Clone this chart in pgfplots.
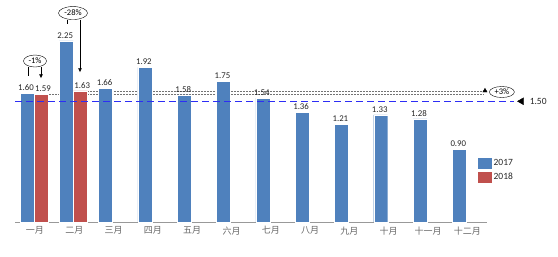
\documentclass[border=0pt]{standalone}
\usepackage{fontspec}
\setmainfont{Carlito}
\newfontfamily\cjk{Noto Sans CJK SC}
\usepackage{pgfplots}
\pgfplotsset{compat=1.18}
\usetikzlibrary{shapes.geometric,arrows.meta}
\definecolor{b17}{HTML}{4F81BD}
\definecolor{r18}{HTML}{C0504D}
\definecolor{dashb}{RGB}{45,45,245}
\begin{document}
\begin{tikzpicture}
\begin{axis}[
  x=39.3pt, y=80.5pt, xmin=-0.5, xmax=11.5, ymin=0, ymax=2.7,
  clip=false,
  axis x line*=bottom, axis y line=none,
  x axis line style={draw=black!40, line width=0.8pt, -},
  xtick={0,...,11},
  xticklabels={一月,二月,三月,四月,五月,六月,七月,八月,九月,十月,十一月,十二月},
  major tick length=0pt,
  xticklabel style={font=\cjk\fontsize{9}{10}\selectfont, text=black!60, yshift=-1pt},
  ytick=\empty,
  /pgf/number format/fixed,
  /pgf/number format/fixed zerofill,
  /pgf/number format/precision=2,
  /pgf/number format/assume math mode=true,
  legend style={at={(axis cs:11.2,0.83)}, anchor=north west, draw=none, fill=none,
    font=\fontsize{9.5}{10}\selectfont, row sep=2pt, text=black!85},
]
% dotted reference lines (behind bars)
\draw[black!55, densely dotted, line width=0.5pt] (axis cs:0.356,1.59) -- (axis cs:0.644,1.59);
\draw[black!55, densely dotted, line width=0.5pt] (axis cs:1.356,1.59) -- (axis cs:11.4,1.59);
\draw[black!55, densely dotted, line width=0.5pt] (axis cs:1.356,1.63) -- (axis cs:11.4,1.63);

\addplot[ybar, bar width=14pt, bar shift=-8pt, fill=b17, draw=white, line width=0.3pt,
  nodes near coords, every node near coord/.append style={font=\fontsize{8.8}{10}\selectfont, text=black!85, xshift=-9pt, inner sep=2.5pt},
  legend image code/.code={\fill[b17] (0pt,-5pt) rectangle (13pt,5pt);}]
  coordinates {(0,1.60) (1,2.25) (2,1.66) (3,1.92) (4,1.58) (5,1.75) (6,1.54) (7,1.36) (8,1.21) (9,1.33) (10,1.28) (11,0.90)};
\addlegendentry{2017}
\addplot[ybar, bar width=14pt, bar shift=6pt, fill=r18, draw=white, line width=0.3pt,
  nodes near coords, every node near coord/.append style={font=\fontsize{8.8}{10}\selectfont, text=black!85, xshift=8pt, inner sep=2.5pt},
  legend image code/.code={\fill[r18] (0pt,-5pt) rectangle (13pt,5pt);}]
  coordinates {(0,1.59) (1,1.63)};
\addlegendentry{2018}

% 1.50 dashed line
\draw[dashb, dash pattern=on 7pt off 4pt, line width=0.9pt] (axis cs:-0.5,1.50) -- (axis cs:12.2,1.50);
\addplot[forget plot, only marks, mark=triangle*, mark size=4pt, mark options={rotate=90, fill=black, draw=black}]
  coordinates {(12.38,1.50)};
\node[anchor=west, font=\fontsize{9.5}{10}\selectfont, text=black!85] at (axis cs:12.5,1.50) {1.50};
\addplot[forget plot, only marks, mark=triangle*, mark size=2.5pt, mark options={fill=black, draw=black}]
  coordinates {(11.45,1.63)};
\node[draw, ellipse, minimum width=25pt, minimum height=11pt, inner sep=0pt, font=\fontsize{8.5}{9}\selectfont] at (axis cs:11.88,1.615) {+3\%};

% -1% annotation
\node[draw, ellipse, minimum width=23pt, minimum height=12pt, inner sep=0pt, font=\fontsize{8.5}{9}\selectfont] (a) at (axis cs:0,2.0) {-1\%};
\draw[black, line width=0.6pt] (axis cs:-0.18,1.93) -- (axis cs:-0.18,1.81);
\draw[black, line width=0.6pt, -{Latex[length=4pt,width=4pt]}] (axis cs:0.153,1.93) -- (axis cs:0.153,1.785);

% -28% annotation
\node[draw, ellipse, minimum width=29pt, minimum height=13pt, inner sep=0pt, font=\fontsize{8.5}{9}\selectfont] at (axis cs:0.967,2.596) {-28\%};
\draw[black, line width=0.6pt] (axis cs:0.81,2.515) -- (axis cs:0.81,2.455);
\draw[black, line width=0.6pt, -{Latex[length=4pt,width=4pt]}] (axis cs:1.145,2.515) -- (axis cs:1.145,1.86);

% bounding box
\path (axis cs:-0.8906,-0.4224) rectangle (axis cs:13.308,2.758);
\end{axis}
\end{tikzpicture}
\end{document}
